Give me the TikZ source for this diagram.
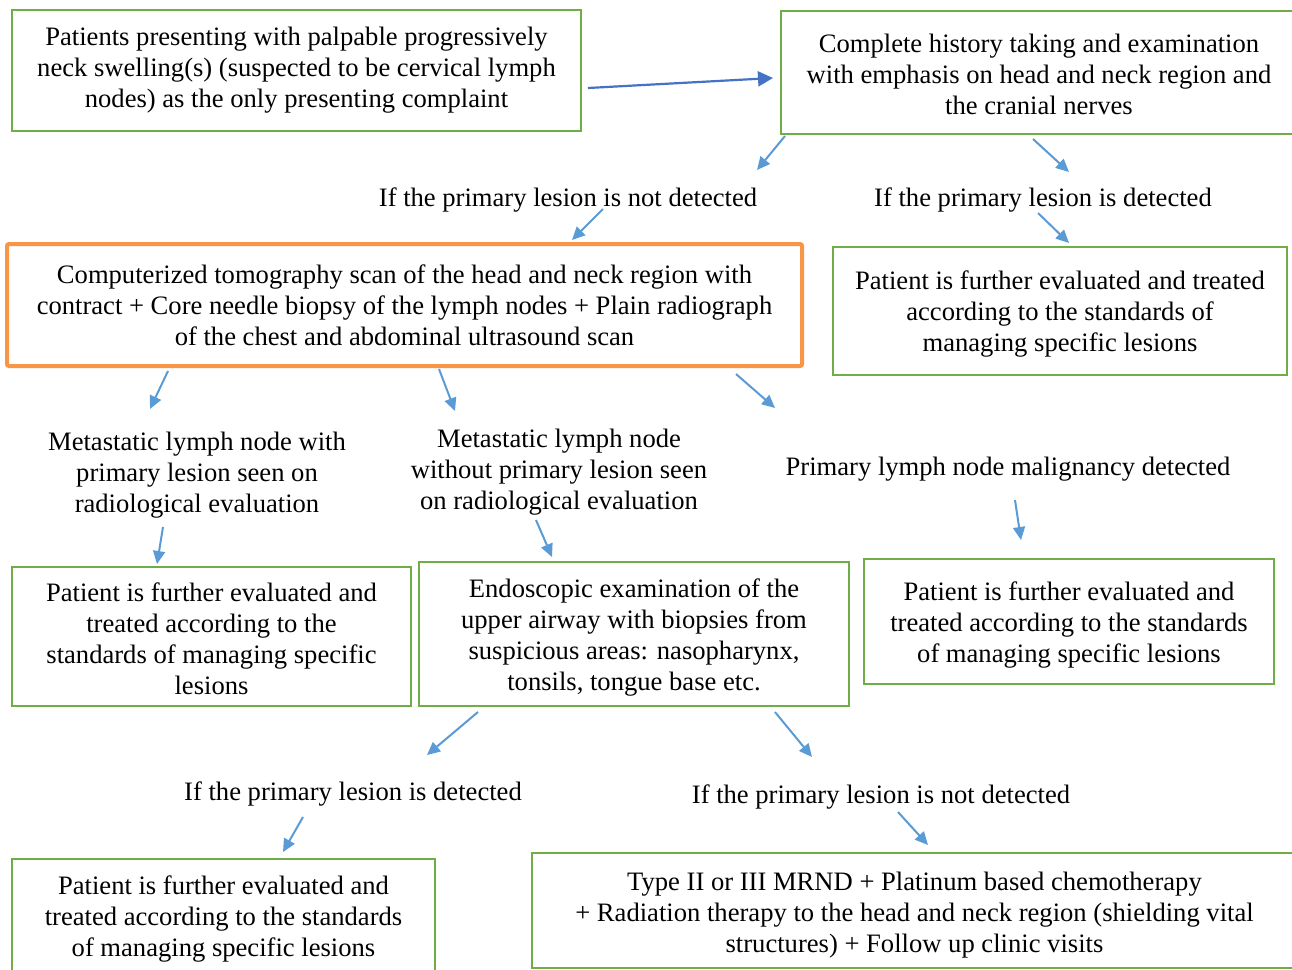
\documentclass[tikz,border=0pt]{standalone}
\usepackage{fontspec}
\setmainfont{Liberation Serif}
\usetikzlibrary{arrows.meta}
\definecolor{gr}{HTML}{70AD47}
\definecolor{orng}{HTML}{F79646}
\definecolor{blu}{HTML}{5B9BD5}
\definecolor{dblu}{HTML}{4472C4}
\newcommand\myfs{\fontsize{13.3}{15.5}\selectfont}
\begin{document}
\begin{tikzpicture}[x=0.5pt,y=-0.5pt,
  gbox/.style={draw=gr,line width=1pt,inner sep=0pt},
  obox/.style={draw=orng,line width=2pt,rounded corners=1pt,inner sep=0pt},
  lbl/.style={align=center,inner sep=0pt,font=\myfs},
  arr/.style={draw=blu,line width=1pt,-{Triangle[length=6.5pt,width=6pt]}},
  darr/.style={draw=dblu,line width=1.1pt,-{Triangle[length=7.5pt,width=7.5pt]}}]
\clip (0,0) rectangle (1292,970);
\fill[white] (0,0) rectangle (1292,970);

% boxes
\node[gbox,minimum width=284.5pt,minimum height=60.5pt] (b1) at (296.5,70.5) {};
\node[lbl] (b1t) at (296.5,70) {Patients presenting with palpable progressively\\neck swelling(s) (suspected to be cervical lymph\\nodes) as the only presenting complaint};
\node[gbox,minimum width=258pt,minimum height=61.5pt] (b2) at (1039,72.5) {};
\node[lbl] (b2t) at (1039,74) {Complete history taking and examination\\with emphasis on head and neck region and\\the cranial nerves};
\node[obox,minimum width=397.5pt,minimum height=61pt] (ct) at (404.5,305) {};
\node[lbl] (ctt) at (404.5,305.5) {Computerized tomography scan of the head and neck region with\\contract + Core needle biopsy of the lymph nodes + Plain radiograph\\of the chest and abdominal ultrasound scan};
\node[gbox,minimum width=227pt,minimum height=64pt] (r1) at (1060,311) {};
\node[lbl] (r1t) at (1060,314) {Patient is further evaluated and treated\\according to the standards of\\managing specific lesions};
\node[gbox,minimum width=199.5pt,minimum height=69.5pt] (l2) at (211.5,636) {};
\node[lbl] (l2t) at (211.5,639) {Patient is further evaluated and\\treated according to the\\standards of managing specific\\lesions};
\node[gbox,minimum width=215pt,minimum height=72pt] (m2) at (634,634) {};
\node[lbl] (m2t) at (634,637.5) {Endoscopic examination of the\\upper airway with biopsies from\\suspicious areas: nasopharynx,\\tonsils, tongue base etc.};
\node[gbox,minimum width=205pt,minimum height=62.5pt] (r2) at (1069,621) {};
\node[lbl] (r2t) at (1069,624.5) {Patient is further evaluated and\\treated according to the standards\\of managing specific lesions};
\node[gbox,minimum width=211.5pt,minimum height=60pt] (l3) at (223.5,919) {};
\node[lbl] (l3t) at (223.5,919) {Patient is further evaluated and\\treated according to the standards\\of managing specific lesions};
\node[gbox,minimum width=382.5pt,minimum height=57.5pt] (r3) at (914.5,910.5) {};
\node[lbl] (r3t) at (914.5,915.5) {Type II or III MRND + Platinum based chemotherapy\\+ Radiation therapy to the head and neck region (shielding vital\\structures) + Follow up clinic visits};

% labels
\node[lbl] (t1) at (568,200) {If the primary lesion is not detected};
\node[lbl] (t2) at (1043,200) {If the primary lesion is detected};
\node[lbl] (t3) at (197,475) {Metastatic lymph node with\\primary lesion seen on\\radiological evaluation};
\node[lbl] (t4) at (559,472) {Metastatic lymph node\\without primary lesion seen\\on radiological evaluation};
\node[lbl] (t5) at (1008,469.5) {Primary lymph node malignancy detected};
\node[lbl] (t6) at (353,793.5) {If the primary lesion is detected};
\node[lbl] (t7) at (881,796.5) {If the primary lesion is not detected};

% connector end points
\coordinate (a1s) at (588,88);   \coordinate (a1e) at (773,78);
\coordinate (a2s) at (785,136);  \coordinate (a2e) at (757,170);
\coordinate (a3s) at (603,209);  \coordinate (a3e) at (572,240);
\coordinate (a4s) at (1033,139); \coordinate (a4e) at (1069,172);
\coordinate (a5s) at (1038,213); \coordinate (a5e) at (1069,243);
\coordinate (a6s) at (168,371);  \coordinate (a6e) at (150,409);
\coordinate (a7s) at (439,369);  \coordinate (a7e) at (455,411);
\coordinate (a8s) at (736,374);  \coordinate (a8e) at (775,408);
\coordinate (a9s) at (163,527);  \coordinate (a9e) at (157,564);
\coordinate (a10s) at (536,520); \coordinate (a10e) at (552,557);
\coordinate (a11s) at (1015,500);\coordinate (a11e) at (1021,540);
\coordinate (a12s) at (478,712); \coordinate (a12e) at (427,755);
\coordinate (a13s) at (775,712); \coordinate (a13e) at (812,757);
\coordinate (a14s) at (303,817); \coordinate (a14e) at (283,852);
\coordinate (a15s) at (898,812); \coordinate (a15e) at (928,845);

\draw[darr] (a1s) -- (a1e);
\foreach \i in {2,...,15} {\draw[arr] (a\i s) -- (a\i e);}
\end{tikzpicture}
\end{document}
